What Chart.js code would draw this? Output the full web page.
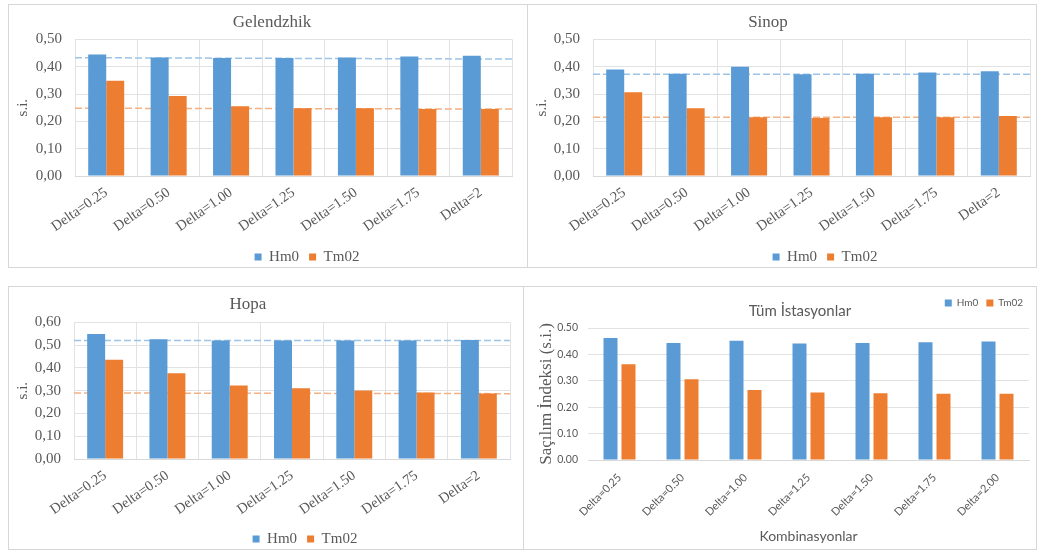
<!DOCTYPE html>
<html>
<head>
<meta charset="utf-8">
<title>Saçılım İndeksi</title>
<script src="https://cdn.jsdelivr.net/npm/chart.js@4.4.1/dist/chart.umd.min.js"></script>
<style>
  body { margin: 0; width: 1037px; height: 552px; background: #fff; position: relative; overflow: hidden; }
  .panel { position: absolute; border: 1px solid #d6d6d6; }
  .panel canvas { display: block; }
</style>
</head>
<body>
<div class="panel" style="left:8px; top:4px;"><canvas id="gel" width="518" height="262"></canvas></div>
<div class="panel" style="left:527px; top:4px;"><canvas id="sin" width="508" height="262"></canvas></div>
<div class="panel" style="left:8px; top:286px;"><canvas id="hop" width="514" height="262"></canvas></div>
<div class="panel" style="left:523px; top:286px;"><canvas id="all" width="512" height="262"></canvas></div>
<script>
'use strict';

const deltaLabels = ['Delta=0.25', 'Delta=0.50', 'Delta=1.00', 'Delta=1.25', 'Delta=1.50', 'Delta=1.75', 'Delta=2'];
const deltaLabelsAll = ['Delta=0.25', 'Delta=0.50', 'Delta=1.00', 'Delta=1.25', 'Delta=1.50', 'Delta=1.75', 'Delta=2.00'];
const seriesNames = ['Hm0', 'Tm02'];

// Gelendzhik
const gelHm0 = [0.445, 0.434, 0.432, 0.432, 0.434, 0.437, 0.440];
const gelTm02 = [0.349, 0.293, 0.255, 0.248, 0.248, 0.245, 0.245];
// dashed lines: value at left end, value at right end
const gelLineHm0 = [0.433, 0.428];
const gelLineTm02 = [0.248, 0.245];

// Sinop
const sinHm0 = [0.390, 0.374, 0.400, 0.372, 0.374, 0.379, 0.383];
const sinTm02 = [0.307, 0.248, 0.215, 0.212, 0.215, 0.215, 0.220];
const sinLineHm0 = [0.372, 0.372];
const sinLineTm02 = [0.215, 0.215];

// Hopa
const hopHm0 = [0.549, 0.526, 0.520, 0.520, 0.520, 0.520, 0.523];
const hopTm02 = [0.436, 0.377, 0.323, 0.311, 0.301, 0.292, 0.288];
const hopLineHm0 = [0.520, 0.520];
const hopLineTm02 = [0.290, 0.287];

// Tüm İstasyonlar
const allHm0 = [0.462, 0.443, 0.452, 0.441, 0.443, 0.446, 0.449];
const allTm02 = [0.363, 0.306, 0.265, 0.256, 0.253, 0.251, 0.251];

const blue = '#5B9BD5';
const orange = '#ED7D31';
const blueDash = '#9DC3E6';
const orangeDash = '#F4B183';
const gridColor = '#e2e2e2';
const textColor = '#595959';
const serif = "'Liberation Serif', 'Times New Roman', serif";
const sans = "Lato, 'Liberation Sans', sans-serif";

// dashed mean lines, drawn behind the bars
const meanLines = {
  id: 'meanLines',
  beforeDatasetsDraw(chart, args, opts) {
    if (!opts.lines) {
      return;
    }
    const ctx = chart.ctx;
    const area = chart.chartArea;
    const y = chart.scales.y;
    ctx.save();
    ctx.lineWidth = 1.5;
    ctx.setLineDash([7, 3]);
    opts.lines.forEach(function (line) {
      ctx.strokeStyle = line.color;
      ctx.beginPath();
      ctx.moveTo(area.left, y.getPixelForValue(line.ends[0]));
      ctx.lineTo(area.right, y.getPixelForValue(line.ends[1]));
      ctx.stroke();
    });
    ctx.restore();
  }
};

// nudges legend and title after layout, like Excel places them
const boxShift = {
  id: 'boxShift',
  afterLayout(chart, args, opts) {
    const legend = chart.legend;
    if (legend) {
      legend.left += opts.lx || 0;
      legend.right += opts.lx || 0;
      legend.top += opts.ly || 0;
      legend.bottom += opts.ly || 0;
    }
    const title = chart.titleBlock;
    if (title) {
      title.left += opts.tx || 0;
      title.right += opts.tx || 0;
    }
  }
};

function commaTick(value) {
  return value.toFixed(2).replace('.', ',');
}

function stationChart(canvasId, title, hm0, tm02, lineHm0, lineTm02, yMax, box) {
  return new Chart(document.getElementById(canvasId), {
    type: 'bar',
    data: {
      labels: deltaLabels,
      datasets: [
        { label: seriesNames[0], data: hm0, backgroundColor: blue, categoryPercentage: 0.577, barPercentage: 1 },
        { label: seriesNames[1], data: tm02, backgroundColor: orange, categoryPercentage: 0.577, barPercentage: 1 }
      ]
    },
    plugins: [meanLines, boxShift],
    options: {
      responsive: false,
      animation: false,
      // negative bottom lets the x labels use the space under the legend row
      layout: { padding: { left: 0, top: 0, right: box.padRight, bottom: -20 } },
      scales: {
        x: {
          grid: { color: gridColor, drawTicks: false, offset: true },
          border: { color: '#d9d9d9' },
          ticks: {
            color: textColor, font: { family: serif, size: 14.5 },
            minRotation: 35, maxRotation: 35, autoSkip: false, padding: 8
          },
          afterFit: function (scale) { scale.height = box.xh; }
        },
        y: {
          min: 0,
          max: yMax,
          grid: { color: gridColor, drawTicks: false },
          border: { display: false },
          ticks: {
            stepSize: 0.1, padding: 13, color: textColor,
            font: { family: serif, size: 15 }, callback: commaTick
          },
          title: {
            display: true, text: 's.i.', color: textColor,
            font: { family: serif, size: 15 }, padding: { top: 5, bottom: 0 }
          },
          afterFit: function (scale) { scale.width = box.yw; }
        }
      },
      plugins: {
        title: {
          display: true, text: title, color: textColor,
          font: { family: serif, size: 17, weight: 'normal' },
          padding: { top: box.tp, bottom: box.tp }
        },
        legend: {
          position: 'bottom',
          labels: {
            boxWidth: 7, boxHeight: 7, padding: 10, color: textColor,
            font: { family: serif, size: 15 }
          }
        },
        tooltip: { enabled: false },
        meanLines: {
          lines: [
            { ends: lineHm0, color: blueDash },
            { ends: lineTm02, color: orangeDash }
          ]
        },
        boxShift: { lx: box.lx, ly: box.ly, tx: box.tx }
      }
    }
  });
}

stationChart('gel', 'Gelendzhik', gelHm0, gelTm02, gelLineHm0, gelLineTm02, 0.5,
  { yw: 66, xh: 76, padRight: 15, tp: 7, lx: 46.5, ly: -12.5, tx: 11.5 });
stationChart('sin', 'Sinop', sinHm0, sinTm02, sinLineHm0, sinLineTm02, 0.5,
  { yw: 65, xh: 76, padRight: 6, tp: 7, lx: 46, ly: -12.5, tx: -11 });
stationChart('hop', 'Hopa', hopHm0, hopTm02, hopLineHm0, hopLineTm02, 0.6,
  { yw: 65, xh: 75, padRight: 13, tp: 7.5, lx: 45.5, ly: -12.5, tx: -11.5 });

// all stations panel, Calibri-like styling
new Chart(document.getElementById('all'), {
  type: 'bar',
  data: {
    labels: deltaLabelsAll,
    datasets: [
      { label: seriesNames[0], data: allHm0, backgroundColor: blue, categoryPercentage: 0.571, barPercentage: 0.778 },
      { label: seriesNames[1], data: allTm02, backgroundColor: orange, categoryPercentage: 0.571, barPercentage: 0.778 }
    ]
  },
  plugins: [boxShift],
  options: {
    responsive: false,
    animation: false,
    layout: { padding: { left: 0, top: 0, right: 7, bottom: -28 } },
    scales: {
      x: {
        grid: { display: false },
        border: { color: '#d9d9d9' },
        ticks: {
          color: textColor, font: { family: sans, size: 11 },
          minRotation: 45, maxRotation: 45, autoSkip: false, padding: 3
        },
        title: {
          display: true, text: 'Kombinasyonlar', color: textColor,
          font: { family: sans, size: 14 }, padding: { top: 0, bottom: 4 }
        },
        afterFit: function (scale) { scale.height = 89; }
      },
      y: {
        min: 0,
        max: 0.5,
        grid: { color: gridColor, drawTicks: false },
        border: { display: false },
        ticks: {
          stepSize: 0.1, padding: 10, color: textColor,
          font: { family: sans, size: 10.5 },
          callback: function (value) { return value.toFixed(2); }
        },
        title: {
          display: true, text: 'Saçılım İndeksi (s.i.)', color: textColor,
          font: { family: serif, size: 17 }, padding: { top: 12, bottom: 0 }
        },
        afterFit: function (scale) { scale.width = 64; }
      }
    },
    plugins: {
      title: {
        display: true, text: 'Tüm İstasyonlar', color: textColor, fullSize: false,
        font: { family: sans, size: 15, weight: 'normal' },
        padding: { top: 15, bottom: 8 }
      },
      legend: {
        position: 'bottom',
        align: 'end',
        labels: {
          boxWidth: 7, boxHeight: 7, padding: 8, color: textColor,
          font: { family: sans, size: 10 }
        }
      },
      tooltip: { enabled: false },
      boxShift: { lx: 2, ly: -259, tx: -8.5 }
    }
  }
});
</script>
</body>
</html>
